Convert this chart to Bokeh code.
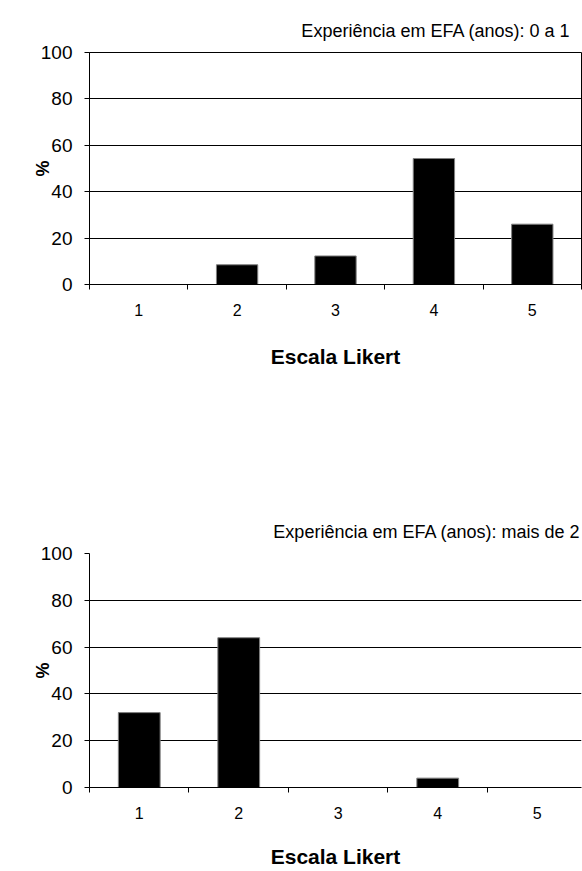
from bokeh.plotting import figure
from bokeh.models import FixedTicker, Range1d, Title
from bokeh.layouts import column
from bokeh.embed import file_html
from bokeh.resources import INLINE

# ---- data ----
likert = [1, 2, 3, 4, 5]
likert_labels = ["1", "2", "3", "4", "5"]
likert_bounds = [0.5, 1.5, 2.5, 3.5, 4.5, 5.5]
y_ticks = [0, 20, 40, 60, 80, 100]
pct_0a1 = [0.0, 8.5, 12.3, 54.3, 26.0]
pct_mais2 = [32.0, 64.0, 0.0, 4.0, 0.0]
title_0a1 = "Experiência em EFA (anos): 0 a 1"
title_mais2 = "Experiência em EFA (anos): mais de 2"
x_title = "Escala Likert"
y_title = "%"

FONT = "Liberation Sans"


def make_chart(values, title, width, height, x_end, b_left, b_right, b_top, b_bottom,
               title_offset, xlabel_standoff, outline):
    p = figure(width=width, height=height, output_backend="svg", toolbar_location=None,
               x_range=Range1d(0.5, x_end), y_range=Range1d(0, 100),
               min_border_left=b_left, min_border_right=b_right,
               min_border_top=b_top, min_border_bottom=b_bottom)
    p.background_fill_color = "white"
    p.border_fill_color = "white"
    p.outline_line_color = "black" if outline else None
    p.outline_line_width = 1

    # small empty spacer between frame and title
    p.add_layout(Title(text=" ", text_font_size="4px", standoff=0, align="right"), "above")
    p.add_layout(Title(text=title, align="right", text_font=FONT, text_font_size="18px",
                       text_font_style="normal", text_color="black",
                       offset=title_offset), "above")

    p.vbar(x=likert, top=values, width=0.42, fill_color="black",
           line_color="#808080", line_width=1)

    # y axis
    ya = p.yaxis[0]
    ya.ticker = FixedTicker(ticks=y_ticks)
    ya.axis_line_color = "black"
    ya.major_tick_line_color = "black"
    ya.major_tick_out = 5
    ya.major_tick_in = 0
    ya.minor_tick_line_color = None
    ya.major_label_text_font = FONT
    ya.major_label_text_font_size = "19px"
    ya.major_label_text_color = "black"
    ya.major_label_standoff = 12
    ya.axis_label = y_title
    ya.axis_label_text_font = FONT
    ya.axis_label_text_font_size = "18px"
    ya.axis_label_text_font_style = "bold"
    ya.axis_label_text_color = "black"
    ya.axis_label_standoff = -15

    # x axis
    xa = p.xaxis[0]
    xa.ticker = FixedTicker(ticks=likert, minor_ticks=likert_bounds)
    xa.major_label_overrides = {k: v for k, v in zip(likert, likert_labels)}
    xa.axis_line_color = "black"
    xa.major_tick_line_color = None
    xa.major_tick_out = 5
    xa.major_tick_in = 0
    xa.minor_tick_line_color = "black"
    xa.minor_tick_out = 5
    xa.minor_tick_in = 0
    xa.major_label_text_font = FONT
    xa.major_label_text_font_size = "16px"
    xa.major_label_text_color = "black"
    xa.major_label_standoff = 14
    xa.axis_label = x_title
    xa.axis_label_text_font = FONT
    xa.axis_label_text_font_size = "21px"
    xa.axis_label_text_font_style = "bold"
    xa.axis_label_text_color = "black"
    xa.axis_label_standoff = xlabel_standoff

    p.xgrid.grid_line_color = None
    p.ygrid.grid_line_color = "black"
    p.ygrid.grid_line_width = 1
    return p


top = make_chart(pct_0a1, title_0a1, width=582, height=508, x_end=5.5,
                 b_left=88, b_right=1, b_top=52, b_bottom=224,
                 title_offset=11, xlabel_standoff=26, outline=True)

# the lower chart is cut off at the right edge of the picture
bottom = make_chart(pct_mais2, title_mais2, width=582, height=363, x_end=5.445,
                    b_left=89, b_right=0, b_top=45, b_bottom=84,
                    title_offset=1, xlabel_standoff=23, outline=False)

layout = column(top, bottom, spacing=0)
open("out.html", "w").write(file_html(layout, INLINE))
